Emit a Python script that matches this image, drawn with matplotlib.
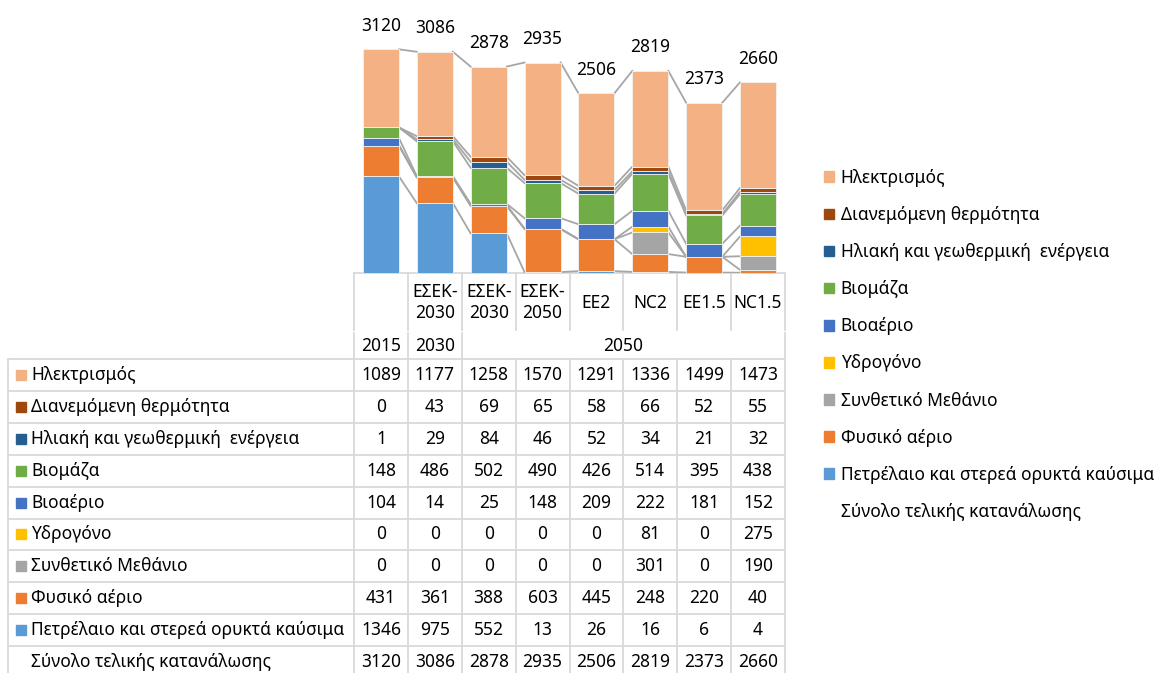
import matplotlib.pyplot as plt
from matplotlib.patches import Rectangle, Patch
import numpy as np

plt.rcParams['font.family'] = ['Noto Sans', 'DejaVu Sans']

# Scenario / year headers of the table
scenarios = ['', 'ΕΣΕΚ-\n2030', 'ΕΣΕΚ-\n2030', 'ΕΣΕΚ-\n2050', 'EE2', 'NC2', 'EE1.5', 'NC1.5']
years = ['2015', '2030', '2050']
year_cols = [(0, 0), (1, 1), (2, 7)]

# Series, bottom of the stack first
series = ['Πετρέλαιο και στερεά ορυκτά καύσιμα', 'Φυσικό αέριο', 'Συνθετικό Μεθάνιο',
          'Υδρογόνο', 'Βιοαέριο', 'Βιομάζα', 'Ηλιακή και γεωθερμική  ενέργεια',
          'Διανεμόμενη θερμότητα', 'Ηλεκτρισμός']
oil = [1346, 975, 552, 13, 26, 16, 6, 4]
gas = [431, 361, 388, 603, 445, 248, 220, 40]
synth_methane = [0, 0, 0, 0, 0, 301, 0, 190]
hydrogen = [0, 0, 0, 0, 0, 81, 0, 275]
biogas = [104, 14, 25, 148, 209, 222, 181, 152]
biomass = [148, 486, 502, 490, 426, 514, 395, 438]
solar_geo = [1, 29, 84, 46, 52, 34, 21, 32]
district_heat = [0, 43, 69, 65, 58, 66, 52, 55]
electricity = [1089, 1177, 1258, 1570, 1291, 1336, 1499, 1473]
total_label = 'Σύνολο τελικής κατανάλωσης'
totals = [3120, 3086, 2878, 2935, 2506, 2819, 2373, 2660]

values = [oil, gas, synth_methane, hydrogen, biogas, biomass, solar_geo, district_heat, electricity]
colors = ['#5B9BD5', '#ED7D31', '#A5A5A5', '#FFC000', '#4472C4', '#70AD47', '#255E91', '#9E480E', '#F4B183']

W, H = 1156, 673
fs = 12.5
grid_c = '#D9D9D9'

fig = plt.figure(figsize=(W / 100, H / 100), dpi=100)
fig.patch.set_facecolor('white')

# full-figure axes in pixel units for the table
tab = fig.add_axes([0, 0, 1, 1])
tab.set_xlim(0, W)
tab.set_ylim(H, 0)
tab.axis('off')

X0, X1 = 354, 785
ncol = len(totals)
col_w = (X1 - X0) / ncol
ax_top, ax_bot = 22, 273

ax = fig.add_axes([X0 / W, (H - ax_bot) / H, (X1 - X0) / W, (ax_bot - ax_top) / H])
ax.patch.set_alpha(0)
for s in ax.spines.values():
    s.set_visible(False)
ax.set_xticks([])
ax.set_yticks([])
ax.set_xlim(-0.5, ncol - 0.5)
ax.set_ylim(0, 3500)

x = np.arange(ncol)
bw = 0.67
bottom = np.zeros(ncol)
tops = []
for vals, c in zip(values, colors):
    ax.bar(x, vals, bw, bottom=bottom, color=c, edgecolor='#F2F2F2', linewidth=0.6, zorder=3)
    bottom = bottom + np.array(vals)
    tops.append(bottom.copy())

# series lines between bars
for top in tops:
    for i in range(ncol - 1):
        ax.plot([i + bw / 2, i + 1 - bw / 2], [top[i], top[i + 1]], color='#A6A6A6', lw=1.3, zorder=2)

for i, t in enumerate(totals):
    ax.annotate(str(t), (i, t), xytext=(0, 17), textcoords='offset points',
                ha='center', va='center', fontsize=fs, annotation_clip=False)

# ---- table ----
cat_top, cat_bot = 273, 330
yr_top, yr_bot = 333, 359
row_h = 31.9
rows = list(zip(series[::-1], values[::-1], colors[::-1])) + [(total_label, totals, None)]
data_bot = yr_bot + row_h * len(rows)
edges = [X0 + k * col_w for k in range(ncol + 1)]

tab.plot([X0, X1], [cat_top, cat_top], color=grid_c, lw=1.3)
for e in edges:
    tab.plot([e, e], [cat_top, cat_bot], color=grid_c, lw=1.3)
for a, b in year_cols:
    tab.plot([edges[a], edges[a]], [yr_top, yr_bot], color=grid_c, lw=1.3)
tab.plot([X1, X1], [yr_top, yr_bot], color=grid_c, lw=1.3)
for e in [8] + edges:
    tab.plot([e, e], [yr_bot, data_bot], color=grid_c, lw=1.3)
for r in range(len(rows) + 1):
    y = yr_bot + r * row_h
    tab.plot([8, X1], [y, y], color=grid_c, lw=1.3)

for i, s in enumerate(scenarios):
    tab.text(X0 + (i + 0.5) * col_w, (cat_top + cat_bot) / 2 + 1, s, ha='center', va='center',
             fontsize=fs, linespacing=1.2)
for yl, (a, b) in zip(years, year_cols):
    tab.text(X0 + (a + b + 1) / 2 * col_w, (yr_top + yr_bot) / 2, yl, ha='center', va='center', fontsize=fs)

for r, (name, vals, c) in enumerate(rows):
    yc = yr_bot + (r + 0.5) * row_h
    if c is not None:
        tab.add_patch(Rectangle((16, yc - 5), 10, 10, color=c))
    tab.text(31, yc, name, ha='left', va='center', fontsize=fs)
    for i, v in enumerate(vals):
        tab.text(X0 + (i + 0.5) * col_w, yc, str(v), ha='center', va='center', fontsize=fs)

# ---- legend ----
handles = [Patch(color=c, label=n) for n, c in zip(series[::-1], colors[::-1])]
handles.append(Patch(color='none', label=total_label))
fig.legend(handles=handles, loc='upper left', bbox_to_anchor=(817 / W, 1 - 162 / H),
           frameon=False, fontsize=fs, handlelength=0.57, handleheight=0.57,
           handletextpad=0.4, labelspacing=1.1, borderaxespad=0)

plt.savefig('out.png', dpi=100, facecolor='white')
